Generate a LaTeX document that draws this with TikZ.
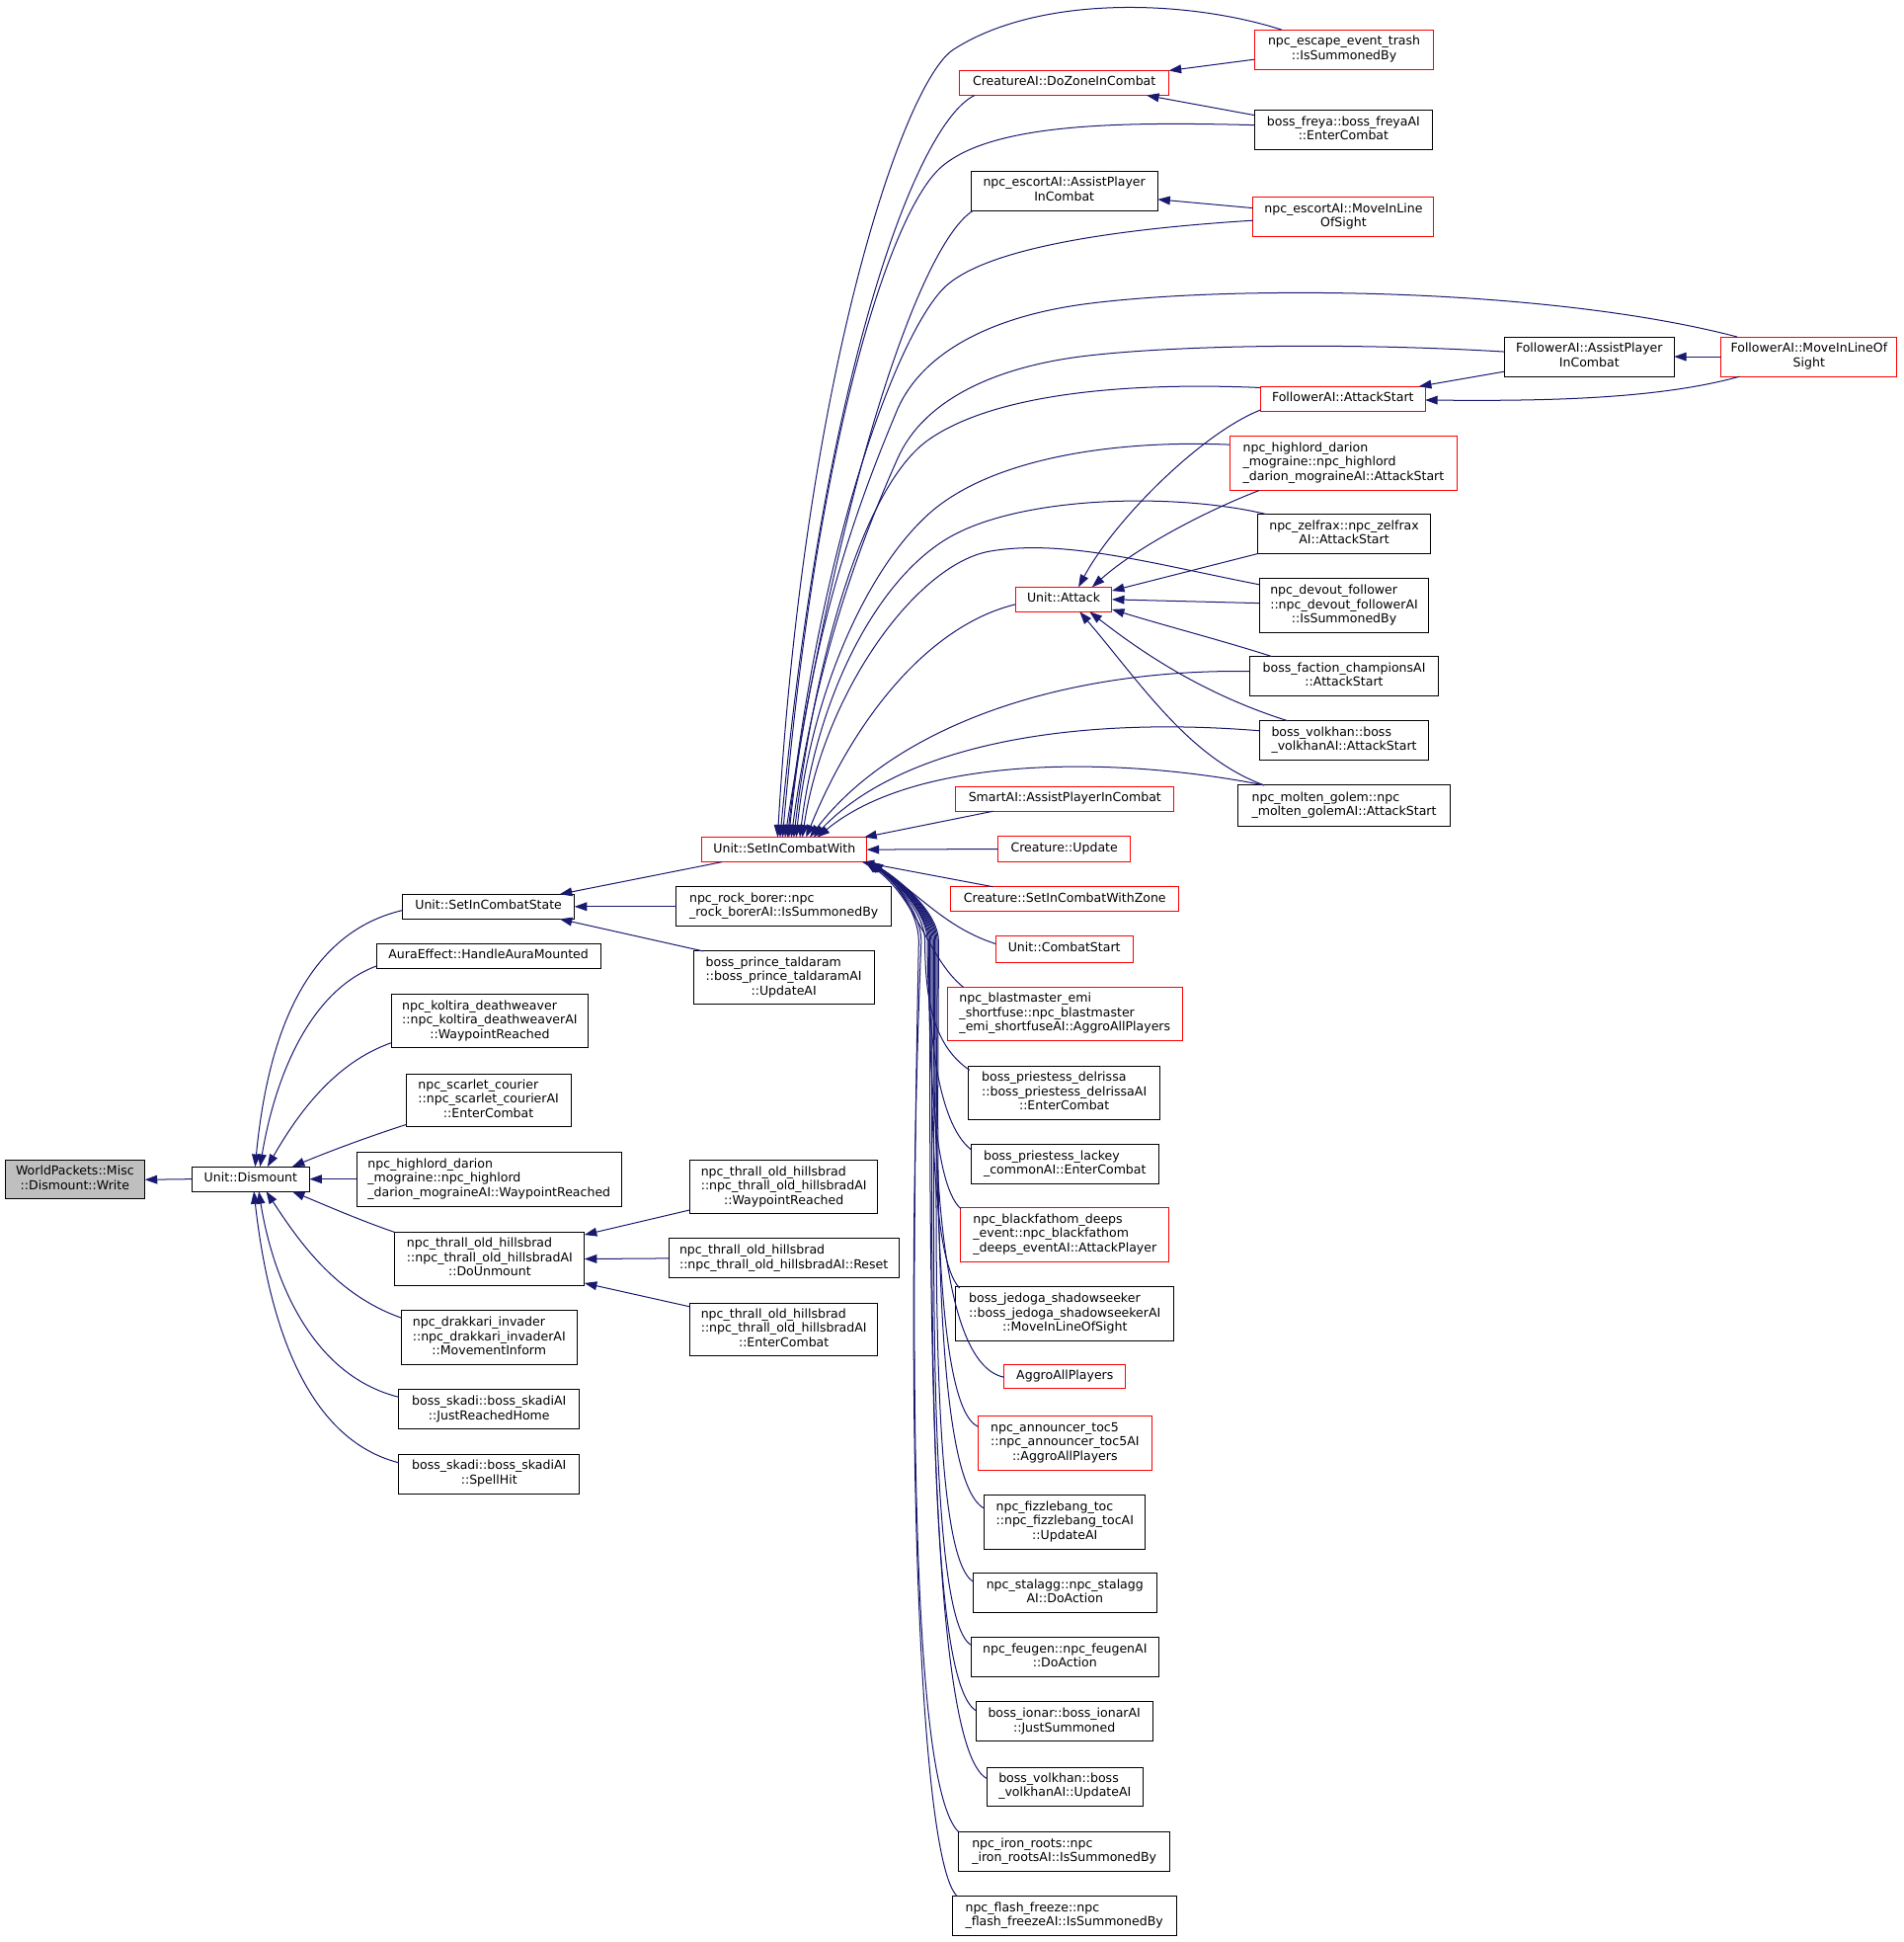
\documentclass[tikz,border=0pt]{standalone}
\usepackage{fontspec}
\setmainfont{DejaVu Sans}
\usetikzlibrary{arrows.meta,calc}
\definecolor{edgec}{HTML}{191970}
\definecolor{redb}{HTML}{FF0000}
\definecolor{grayf}{HTML}{BFBFBF}
\newcommand{\LL}[1]{\begin{tabular}{@{}l@{}}#1\end{tabular}}
\newcommand{\LC}[1]{\multicolumn{1}{@{}c@{}}{#1}}
\newcommand{\bx}[7]{\node[nd,#6,minimum width={(#4)-(#2)},minimum height={(#5)-(#3)}] (#1) at ({((#2)+(#4))/2},{((#3)+(#5))/2}) {\LL{#7}};}
\begin{document}
\begin{tikzpicture}[x=1pt,y=-1pt,
 nd/.style={rectangle,inner sep=0pt,outer sep=0pt,line width=0.8pt,font=\fontsize{10}{11.6}\selectfont},
 bk/.style={draw=black}, rd/.style={draw=redb},
 e/.style={draw=edgec,line width=0.8pt,-{Triangle[length=10pt,width=7pt]}}]
\fill[white] (0,0) rectangle (1537,1568);
\useasboundingbox (0,0) rectangle (1537,1568);
% column 0-2
\bx{wpk}{4}{937}{117}{968}{bk,fill=grayf}{WorldPackets::Misc\\\LC{::Dismount::Write}}
\bx{dism}{155}{942}{250}{962}{bk}{Unit::Dismount}
\bx{sics}{325}{722}{464}{742}{bk}{Unit::SetInCombatState}
\bx{aura}{304}{762}{485}{782}{bk}{AuraEffect::HandleAuraMounted}
\bx{kolt}{316}{803}{475}{846}{bk}{npc\_koltira\_deathweaver\\::npc\_koltira\_deathweaverAI\\\LC{::WaypointReached}}
\bx{scar}{328}{867}{461}{910}{bk}{npc\_scarlet\_courier\\::npc\_scarlet\_courierAI\\\LC{::EnterCombat}}
\bx{hlwp}{288}{930}{502}{974}{bk}{npc\_highlord\_darion\\\_mograine::npc\_highlord\\\LC{\_darion\_mograineAI::WaypointReached}}
\bx{unmt}{319}{995}{472}{1038}{bk}{npc\_thrall\_old\_hillsbrad\\::npc\_thrall\_old\_hillsbradAI\\\LC{::DoUnmount}}
\bx{drak}{324}{1058}{466}{1102}{bk}{npc\_drakkari\_invader\\::npc\_drakkari\_invaderAI\\\LC{::MovementInform}}
\bx{skjr}{322}{1122}{468}{1154}{bk}{boss\_skadi::boss\_skadiAI\\\LC{::JustReachedHome}}
\bx{sksh}{322}{1174}{468}{1206}{bk}{boss\_skadi::boss\_skadiAI\\\LC{::SpellHit}}
% column 3
\bx{sicw}{567}{676}{700}{696}{rd}{Unit::SetInCombatWith}
\bx{rock}{546}{716}{720}{748}{bk}{npc\_rock\_borer::npc\\\LC{\_rock\_borerAI::IsSummonedBy}}
\bx{tald}{560}{768}{706}{811}{bk}{boss\_prince\_taldaram\\::boss\_prince\_taldaramAI\\\LC{::UpdateAI}}
\bx{thwp}{557}{937}{709}{980}{bk}{npc\_thrall\_old\_hillsbrad\\::npc\_thrall\_old\_hillsbradAI\\\LC{::WaypointReached}}
\bx{thrs}{540}{1000}{726}{1032}{bk}{npc\_thrall\_old\_hillsbrad\\\LC{::npc\_thrall\_old\_hillsbradAI::Reset}}
\bx{thec}{557}{1052}{709}{1095}{bk}{npc\_thrall\_old\_hillsbrad\\::npc\_thrall\_old\_hillsbradAI\\\LC{::EnterCombat}}
% column 4
\bx{czic}{775}{57}{944}{77}{rd}{CreatureAI::DoZoneInCombat}
\bx{eapc}{784}{138}{935}{170}{bk}{npc\_escortAI::AssistPlayer\\\LC{InCombat}}
\bx{attk}{820}{474}{898}{494}{rd}{Unit::Attack}
\bx{smrt}{772}{635}{948}{655}{rd}{SmartAI::AssistPlayerInCombat}
\bx{cupd}{806}{675}{913}{696}{rd}{Creature::Update}
\bx{csiz}{768}{716}{952}{736}{rd}{Creature::SetInCombatWithZone}
\bx{ucst}{804}{756}{915}{777}{rd}{Unit::CombatStart}
\bx{blst}{765}{797}{955}{840}{rd}{npc\_blastmaster\_emi\\\_shortfuse::npc\_blastmaster\\\LC{\_emi\_shortfuseAI::AggroAllPlayers}}
\bx{dlrs}{782}{861}{937}{904}{bk}{boss\_priestess\_delrissa\\::boss\_priestess\_delrissaAI\\\LC{::EnterCombat}}
\bx{lack}{784}{924}{936}{956}{bk}{boss\_priestess\_lackey\\\LC{\_commonAI::EnterCombat}}
\bx{bfd}{776}{975}{944}{1019}{rd}{npc\_blackfathom\_deeps\\\_event::npc\_blackfathom\\\LC{\_deeps\_eventAI::AttackPlayer}}
\bx{jedo}{772}{1039}{948}{1083}{bk}{boss\_jedoga\_shadowseeker\\::boss\_jedoga\_shadowseekerAI\\\LC{::MoveInLineOfSight}}
\bx{aggr}{811}{1102}{909}{1121}{rd}{AggroAllPlayers}
\bx{anno}{790}{1143}{930}{1187}{rd}{npc\_announcer\_toc5\\::npc\_announcer\_toc5AI\\\LC{::AggroAllPlayers}}
\bx{fizz}{795}{1207}{925}{1251}{bk}{npc\_fizzlebang\_toc\\::npc\_fizzlebang\_tocAI\\\LC{::UpdateAI}}
\bx{stal}{786}{1270}{934}{1302}{bk}{npc\_stalagg::npc\_stalagg\\\LC{AI::DoAction}}
\bx{feug}{784}{1322}{936}{1354}{bk}{npc\_feugen::npc\_feugenAI\\\LC{::DoAction}}
\bx{ionr}{788}{1374}{931}{1406}{bk}{boss\_ionar::boss\_ionarAI\\\LC{::JustSummoned}}
\bx{vkup}{797}{1427}{923}{1458}{bk}{boss\_volkhan::boss\\\LC{\_volkhanAI::UpdateAI}}
\bx{iron}{774}{1479}{945}{1511}{bk}{npc\_iron\_roots::npc\\\LC{\_iron\_rootsAI::IsSummonedBy}}
\bx{flfz}{769}{1531}{950}{1563}{bk}{npc\_flash\_freeze::npc\\\LC{\_flash\_freezeAI::IsSummonedBy}}
% column 5
\bx{esct}{1013}{24}{1158}{56}{rd}{npc\_escape\_event\_trash\\\LC{::IsSummonedBy}}
\bx{frey}{1013}{89}{1157}{121}{bk}{boss\_freya::boss\_freyaAI\\\LC{::EnterCombat}}
\bx{emls}{1012}{159}{1158}{191}{rd}{npc\_escortAI::MoveInLine\\\LC{OfSight}}
\bx{fast}{1018}{312}{1151}{332}{rd}{FollowerAI::AttackStart}
\bx{hlas}{993}{352}{1177}{396}{rd}{npc\_highlord\_darion\\\_mograine::npc\_highlord\\\LC{\_darion\_mograineAI::AttackStart}}
\bx{zelf}{1016}{415}{1155}{447}{bk}{npc\_zelfrax::npc\_zelfrax\\\LC{AI::AttackStart}}
\bx{devt}{1017}{467}{1154}{511}{bk}{npc\_devout\_follower\\::npc\_devout\_followerAI\\\LC{::IsSummonedBy}}
\bx{bfch}{1009}{530}{1162}{562}{bk}{boss\_faction\_championsAI\\\LC{::AttackStart}}
\bx{vkas}{1017}{582}{1154}{614}{bk}{boss\_volkhan::boss\\\LC{\_volkhanAI::AttackStart}}
\bx{molt}{1000}{634}{1171}{667}{bk}{npc\_molten\_golem::npc\\\LC{\_molten\_golemAI::AttackStart}}
% columns 6-7
\bx{fapc}{1215}{272}{1352}{304}{bk}{FollowerAI::AssistPlayer\\\LC{InCombat}}
\bx{fmls}{1390}{272}{1532}{304}{rd}{FollowerAI::MoveInLineOf\\\LC{Sight}}

% ---- edges into Dismount / Write
\draw[e] (dism.west) -- (wpk.east);
\draw[e] ($(sics.north west)+(0,13)$) .. controls (240,755) and (215,850) .. ($(dism.north west)+(51,0)$);
\draw[e] ($(aura.north west)+(0,18)$) .. controls (250,800) and (222,870) .. ($(dism.north west)+(55,0)$);
\draw[e] ($(kolt.north west)+(0,39)$) .. controls (270,858) and (240,900) .. ($(dism.north west)+(61,0)$);
\draw[e] ($(scar.north west)+(0,41)$) .. controls (300,917) and (270,928) .. ($(dism.north west)+(81,0)$);
\draw[e] (hlwp.west) -- (dism.east);
\draw[e] (unmt.north west) .. controls (290,985) and (265,974) .. ($(dism.south west)+(81,0)$);
\draw[e] ($(drak.north west)+(0,6)$) .. controls (270,1045) and (240,1000) .. ($(dism.south west)+(60,0)$);
\draw[e] ($(skjr.north west)+(0,6)$) .. controls (250,1110) and (220,1030) .. ($(dism.south west)+(54,0)$);
\draw[e] ($(sksh.north west)+(0,7)$) .. controls (240,1160) and (215,1050) .. ($(dism.south west)+(50,0)$);
% ---- into SetInCombatState / DoUnmount
\draw[e] ($(sicw.south west)+(16,0)$) -- ($(sics.north east)+(-12,0)$);
\draw[e] (rock.west) -- (sics.east);
\draw[e] ($(tald.north west)+(8,0)$) -- ($(sics.south east)+(-12,0)$);
\draw[e] ($(thwp.south west)+(0,-3)$) -- ($(unmt.north east)+(0,2)$);
\draw[e] (thrs.west) -- (unmt.east);
\draw[e] ($(thec.north west)+(0,3)$) -- ($(unmt.south east)+(0,-2)$);
% ---- into Unit::Attack
\draw[e] ($(fast.south west)+(0,-1)$) .. controls (970,350) and (900,420) .. ($(attk.north west)+(51,0)$);
\draw[e] ($(hlas.south west)+(24,0)$) .. controls (980,410) and (920,440) .. ($(attk.north west)+(62,0)$);
\draw[e] (zelf.south west) -- ($(attk.north east)+(0,3)$);
\draw[e] ($(devt.north west)+(0,20)$) -- ($(attk.north east)+(0,10)$);
\draw[e] ($(bfch.north west)+(18,0)$) .. controls (990,518) and (940,505) .. ($(attk.south east)+(0,-2)$);
\draw[e] ($(vkas.north west)+(23,0)$) .. controls (970,560) and (920,525) .. ($(attk.south west)+(60,0)$);
\draw[e] ($(molt.north west)+(21,0)$) .. controls (960,612) and (920,550) .. ($(attk.south west)+(52,0)$);
% ---- follower / escort / zone
\draw[e] ($(fapc.south west)+(0,-4)$) -- ($(fast.north east)+(-5,0)$);
\draw[e] ($(fmls.south west)+(15,0)$) .. controls (1340,322) and (1250,324) .. ($(fast.north east)+(0,11)$);
\draw[e] (fmls.west) -- (fapc.east);
\draw[e] ($(esct.north west)+(0,24)$) -- (czic.north east);
\draw[e] ($(frey.north west)+(0,4)$) -- ($(czic.south east)+(-18,0)$);
\draw[e] ($(emls.north west)+(0,9)$) -- ($(eapc.north east)+(0,23)$);
% ---- fan into SetInCombatWith (top)
\draw[e] ($(esct.north west)+(22,0)$) .. controls (960,0) and (840,-5) .. (770,40) .. controls (730,66) and (650,300) .. ($(sicw.north west)+(61,0)$);
\draw[e] ($(czic.south west)+(12,0)$) .. controls (740,100) and (665,300) .. ($(sicw.north west)+(63,0)$);
\draw[e] ($(frey.north west)+(0,12)$) .. controls (900,98) and (800,100) .. (760,135) .. controls (720,170) and (660,350) .. ($(sicw.north west)+(65,0)$);
\draw[e] ($(eapc.south west)+(2,0)$) .. controls (745,195) and (680,380) .. ($(sicw.north west)+(67,0)$);
\draw[e] ($(emls.north west)+(0,19)$) .. controls (900,185) and (800,200) .. (765,230) .. controls (730,260) and (665,420) .. ($(sicw.north west)+(69,0)$);
\draw[e] ($(fmls.north west)+(13,0)$) .. controls (1250,232) and (1000,230) .. (880,245) .. controls (800,255) and (745,285) .. (725,330) .. controls (700,390) and (655,500) .. ($(sicw.north west)+(70,0)$);
\draw[e] ($(fapc.north west)+(0,12)$) .. controls (1100,277) and (960,278) .. (880,287) .. controls (800,296) and (745,325) .. (725,370) .. controls (705,415) and (660,520) .. ($(sicw.north west)+(72,0)$);
\draw[e] ($(fast.north west)+(0,1)$) .. controls (900,308) and (800,320) .. (750,355) .. controls (700,390) and (660,520) .. ($(sicw.north west)+(74,0)$);
\draw[e] ($(hlas.north west)+(0,7)$) .. controls (900,355) and (800,370) .. (750,415) .. controls (700,460) and (655,560) .. ($(sicw.north west)+(76,0)$);
\draw[e] ($(zelf.north west)+(6,0)$) .. controls (950,398) and (830,400) .. (770,432) .. controls (710,464) and (660,560) .. ($(sicw.north west)+(79,0)$);
\draw[e] ($(devt.north west)+(0,5)$) .. controls (930,455) and (860,435) .. (800,445) .. controls (740,455) and (665,560) .. ($(sicw.north west)+(81,0)$);
\draw[e] ($(attk.north west)+(0,14)$) .. controls (750,505) and (690,580) .. ($(sicw.north west)+(84,0)$);
\draw[e] ($(bfch.north west)+(0,12)$) .. controls (850,540) and (720,590) .. ($(sicw.north west)+(87,0)$);
\draw[e] ($(vkas.north west)+(0,8)$) .. controls (870,578) and (730,600) .. ($(sicw.north west)+(90,0)$);
\draw[e] ($(molt.north west)+(21,0)$) .. controls (900,610) and (740,610) .. ($(sicw.north west)+(93,0)$);
\draw[e] ($(smrt.south west)+(30,0)$) -- ($(sicw.north east)+(-2,0)$);
\draw[e] (cupd.west) -- (sicw.east);
% ---- fan into SetInCombatWith (bottom right)
\draw[e] ($(csiz.north west)+(34,0)$) -- ($(sicw.south east)+(-4,0)$);
\draw[e] ($(ucst.north west)+(0,6)$) .. controls (760,748) and (738,716) .. ($(sicw.south east)+(-2,0)$);
\draw[e] ($(blst.north west)+(13,0)$) .. controls (750,775) and (740,725) .. ($(sicw.south east)+(-1,0)$);
\draw[e] ($(dlrs.north west)+(1,3)$) .. controls (755,845) and (747,810) .. (747,760) .. controls (747,738) and (724,712) .. (sicw.south east);
\draw[e] ($(lack.north west)+(0,4)$) .. controls (755,905) and (749,820) .. (749,760) .. controls (749,738) and (725,712) .. ($(sicw.south east)+(1,0)$);
\draw[e] ($(bfd.north west)+(0,1)$) .. controls (752,955) and (750,840) .. (750,760) .. controls (750,738) and (725,712) .. ($(sicw.south east)+(1,0)$);
\draw[e] ($(jedo.north west)+(3,1)$) .. controls (750,1015) and (752,860) .. (752,760) .. controls (752,738) and (726,712) .. ($(sicw.south east)+(2,0)$);
\draw[e] ($(aggr.north west)+(0,10)$) .. controls (750,1100) and (754,880) .. (754,760) .. controls (754,738) and (727,712) .. ($(sicw.south east)+(2,0)$);
\draw[e] ($(anno.north west)+(0,9)$) .. controls (752,1135) and (756,900) .. (756,760) .. controls (756,738) and (728,712) .. ($(sicw.south east)+(3,0)$);
\draw[e] ($(fizz.north west)+(0,11)$) .. controls (750,1195) and (758,900) .. (758,760) .. controls (758,738) and (729,712) .. ($(sicw.south east)+(3,0)$);
\draw[e] ($(stal.north west)+(0,7)$) .. controls (748,1255) and (757,950) .. (757,760) .. controls (757,738) and (728,712) .. ($(sicw.south east)+(3,0)$);
\draw[e] ($(feug.north west)+(0,6)$) .. controls (746,1305) and (755,950) .. (755,760) .. controls (755,738) and (727,712) .. ($(sicw.south east)+(3,0)$);
\draw[e] ($(ionr.north west)+(0,7)$) .. controls (746,1355) and (753,1000) .. (753,760) .. controls (753,738) and (726,712) .. ($(sicw.south east)+(2,0)$);
\draw[e] ($(vkup.north west)+(0,9)$) .. controls (748,1410) and (751,1000) .. (751,760) .. controls (751,738) and (725,712) .. ($(sicw.south east)+(2,0)$);
\draw[e] (iron.north west) .. controls (735,1440) and (735,1100) .. (742,760) .. controls (742,738) and (724,712) .. ($(sicw.south east)+(1,0)$);
\draw[e] ($(flfz.north west)+(4,0)$) .. controls (740,1500) and (730,1100) .. (744,760) .. controls (744,738) and (724,712) .. ($(sicw.south east)+(1,0)$);
\end{tikzpicture}
\end{document}
